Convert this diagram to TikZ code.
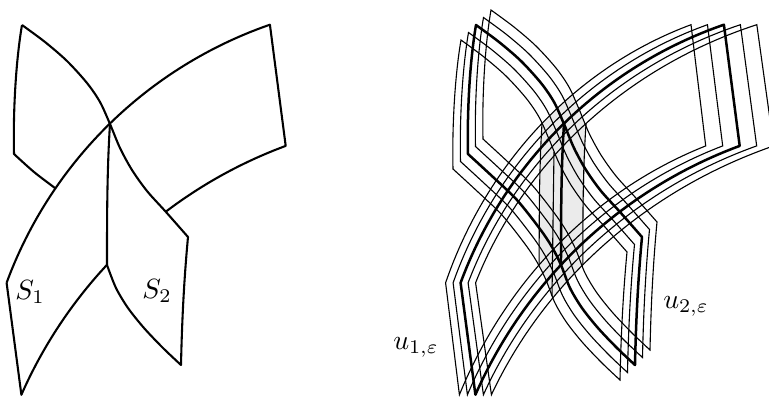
\documentclass[tikz,border=0pt]{standalone}
\usepackage{amsmath, amssymb}
\usepackage{xcolor}
\usepackage{tikz}
\usetikzlibrary{calc}
\definecolor{shadegray}{HTML}{EBEBEB}

% outlines of the two bands, in the coordinates of the left picture
\newcommand\bandone{(6.6,282.8) arc[start angle=200.25, end angle=250.9, radius=431]
  -- (285.7,145.9) arc[start angle=249.7, end angle=203.75, radius=465] -- cycle}
\newcommand\bandtwo{plot[smooth] coordinates {(22,25) (45,42) (67,61) (87,83) (100,102) (110,124) (120,148) (132,170) (147,191) (166,212) (188,237)}
  .. controls (184,280) and (182,320) .. (181,365)
  -- plot[smooth] coordinates {(181,365) (163,348) (144,328) (128,308) (116,288) (107,265) (98,247) (86,229) (63,200) (39,177) (14,154)}
  .. controls (13,110) and (16,60) .. (22,25) -- cycle}
\newcommand\midline{(110,124) .. controls (107,170) and (107,220) .. (107,265)}

\begin{document}
\begin{tikzpicture}[
    x=0.36pt, y=-0.36pt,
    outline/.style={line width=0.75pt, line join=round},
    copyline/.style={thin},
    boldline/.style={line width=0.9pt, line join=round},
    shadezone/.style={fill=shadegray},
    tag/.style={inner sep=1pt},
    onecopy/.style={shift={(240,0)}, xscale={1+0.034*(#1)}, shift={(214,0)}},
    twocopy/.style={shift={({454+7.5*(#1)},{-7.5*(#1)})}}
  ]
    \useasboundingbox (0,0) rectangle (769,403);

    % left: S_1 and S_2
    \draw[outline] (6.6,282.8) arc[start angle=200.25, end angle=250.9, radius=431]
      -- (285.7,145.9) arc[start angle=249.7, end angle=232.8, radius=465];
    \draw[outline] (106.9,264.9) arc[start angle=223, end angle=203.75, radius=465] -- (6.6,282.8);
    \draw[outline] plot[smooth] coordinates {(22,25) (45,42) (67,61) (87,83) (100,102) (110,124) (120,148) (132,170) (147,191) (166,212) (188,237)}
      .. controls (184,280) and (182,320) .. (181,365)
      -- plot[smooth] coordinates {(181,365) (163,348) (144,328) (128,308) (116,288) (107,265)};
    \draw[outline] plot[smooth] coordinates {(55,188) (34,172) (14,154)}
      .. controls (13,110) and (16,60) .. (22,25);
    \draw[outline] \midline;

    \node[tag] (S1) at (30,292) {$S_1$};
    \node[tag] (S2) at (157,291) {$S_2$};

    % right: shifted copies
    \fill[shadezone] (542,123.7) -- (564.3,101.8) -- (572,94.5) -- (579,109) -- (586,125.8)
      -- (583,264.6) -- (565.5,283.1) -- (553,298) -- (546,280) -- (539,266) -- cycle;

    \foreach \k in {-2,-1,1,2} {
      \draw[copyline, onecopy=\k] \bandone;
      \draw[copyline, twocopy=\k] \bandtwo;
    }
    \draw[copyline, onecopy=-2] \midline;
    \draw[copyline, onecopy=2] \midline;
    \draw[copyline] (554,152) -- (552,296);

    \draw[boldline, onecopy=0] \bandone;
    \draw[boldline, twocopy=0] \bandtwo;
    \draw[boldline, onecopy=0] \midline;

    \node[tag] (u1) at (416,347) {$u_{1,\varepsilon}$};
    \node[tag] (u2) at (686,306) {$u_{2,\varepsilon}$};
  \end{tikzpicture}
\end{document}
